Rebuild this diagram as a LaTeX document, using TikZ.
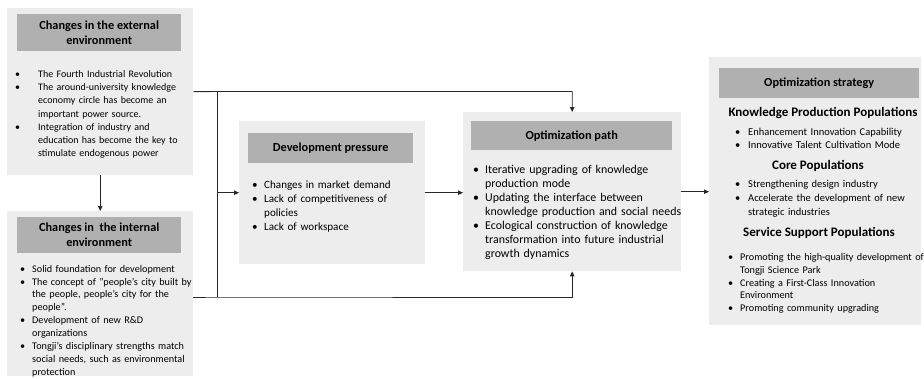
\documentclass[tikz,border=0pt]{standalone}
\usepackage{fontspec}
\setmainfont{Carlito}
\usepackage{enumitem}
\usetikzlibrary{positioning,arrows.meta}
\setlist[itemize]{nosep,label=\textbullet,labelindent=0pt,labelsep=6pt,align=left}
\definecolor{panelgray}{RGB}{237,237,237}
\definecolor{headgray}{RGB}{176,176,176}
\definecolor{linegray}{RGB}{40,40,40}
\newcommand{\fsz}[2]{\fontsize{#1}{#2}\selectfont}
\begin{document}
\begin{tikzpicture}[x=1pt,y=-1pt,font=\fsz{10}{13.2},
	panel/.style={fill=panelgray, inner sep=0pt, anchor=north west},
	header/.style={fill=headgray, inner sep=0pt, anchor=north west, align=center, font=\fsz{12.3}{15}\bfseries},
	body/.style={inner sep=0pt, anchor=north west, text width=240pt},
	subhead/.style={inner sep=0pt, font=\fsz{13}{15}\bfseries},
	conn/.style={draw=linegray, line width=0.9pt},
	tip/.style={conn, -{Triangle[length=5pt,width=4.5pt]}}]
	\useasboundingbox (0,0) rectangle (924,378);
	%panels
	\node[panel, minimum width=186pt, minimum height=167pt] (ext) at (7,8) {};
	\node[panel, minimum width=186pt, minimum height=165pt] (int) at (7,211) {};
	\node[panel, minimum width=186pt, minimum height=143pt] (dev) at (239,121) {};
	\node[panel, minimum width=218pt, minimum height=159pt] (path) at (463,112) {};
	\node[panel, minimum width=212pt, minimum height=268pt] (strat) at (709,57) {};
	%headers
	\node[header, minimum width=164pt, minimum height=37pt] (exthead) at (17,14) {Changes in the external\\environment};
	\node[header, minimum width=164pt, minimum height=36pt] (inthead) at (17,217) {Changes in\ \ the internal\\environment};
	\node[header, minimum width=165pt, minimum height=30pt] (devhead) at (248,133) {Development pressure};
	\node[header, minimum width=201pt, minimum height=29pt] (pathhead) at (471,121) {Optimization path};
	\node[header, minimum width=200pt, minimum height=30pt] (strathead) at (719,68) {Optimization strategy};
	%texts
	\node[body] (exttext) at (15,64) {%
		\begin{itemize}[leftmargin=23pt,labelwidth=17pt]
			\item The Fourth Industrial Revolution
			\item The around-university knowledge\newline economy circle has become an\newline important power source.
			\item Integration of industry and\newline education has become the key to\newline stimulate endogenous power
		\end{itemize}};
	\node[body, font=\fsz{10.2}{12.9}] (inttext) at (20,259) {%
		\begin{itemize}[leftmargin=12pt,labelwidth=6pt]
			\item Solid foundation for development
			\item The concept of "people's city built by\newline the people, people's city for the\newline people".
			\item Development of new R\&D\newline organizations
			\item Tongji's disciplinary strengths match\newline social needs, such as environmental\newline protection
		\end{itemize}};
	\node[body, font=\fsz{11.1}{14}] (devtext) at (252,174) {%
		\begin{itemize}[leftmargin=12pt,labelwidth=6pt]
			\item Changes in market demand
			\item Lack of competitiveness of\newline policies
			\item Lack of workspace
		\end{itemize}};
	\node[body, font=\fsz{11.9}{14}] (pathtext) at (473,159) {%
		\begin{itemize}[leftmargin=12pt,labelwidth=6pt]
			\item Iterative upgrading of knowledge\newline production mode
			\item Updating the interface between\newline knowledge production and social needs
			\item Ecological construction of knowledge\newline transformation into future industrial\newline growth dynamics
		\end{itemize}};
	\node[subhead] (kpp) at (823,113) {Knowledge Production Populations};
	\node[body, font=\fsz{10.5}{13.8}] (kpptext) at (735,121) {%
		\begin{itemize}[leftmargin=13pt,labelwidth=7pt]
			\item Enhancement Innovation Capability
			\item Innovative Talent Cultivation Mode
		\end{itemize}};
	\node[subhead] (core) at (818,166) {Core Populations};
	\node[body, font=\fsz{10.5}{13.6}] (coretext) at (735,174) {%
		\begin{itemize}[leftmargin=13pt,labelwidth=7pt]
			\item Strengthening design industry
			\item Accelerate the development of new\newline strategic industries
		\end{itemize}};
	\node[subhead] (ssp) at (819,233) {Service Support Populations};
	\node[body, font=\fsz{10.2}{12.6}] (ssptext) at (728,248) {%
		\begin{itemize}[leftmargin=12pt,labelwidth=6pt]
			\item Promoting the high-quality development of\newline Tongji Science Park
			\item Creating a First-Class Innovation\newline Environment
			\item Promoting community upgrading
		\end{itemize}};
	%connectors
	\coordinate (jtop) at (217,91.5);
	\coordinate (jbot) at (217,297);
	\draw[tip] (ext.south) -- (int.north);
	\draw[tip] (ext.east) -- (jtop) -| (path.north);
	\draw[tip] (int.east |- jbot) -- (jbot) -| (path.south);
	\draw[conn] (jtop) -- (jbot);
	\draw[tip] (jtop |- dev.west) -- (dev.west);
	\draw[tip] (dev.east) -- (dev.east -| path.west);
	\draw[tip] (path.east) -- (path.east -| strat.west);
\end{tikzpicture}
\end{document}
